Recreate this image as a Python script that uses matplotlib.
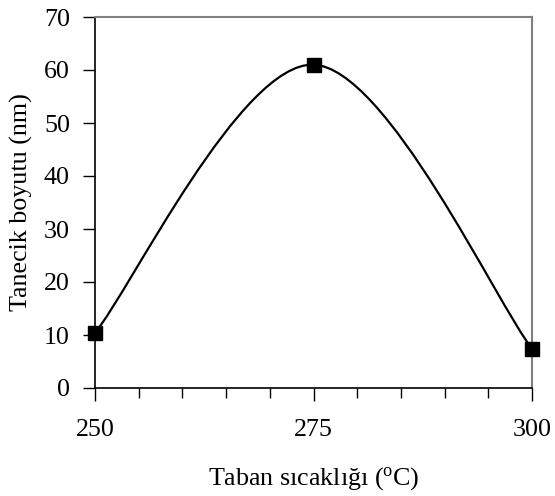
import numpy as np
import matplotlib
matplotlib.use("Agg")
import matplotlib.pyplot as plt
from matplotlib.path import Path
from matplotlib.patches import PathPatch
from matplotlib.ticker import MultipleLocator

temps = [250, 275, 300]
sizes = [10.4, 61.0, 7.4]
yticks = [0, 10, 20, 30, 40, 50, 60, 70]
xticks = [250, 275, 300]

FS = 18.7
plt.rcParams['font.family'] = ['Liberation Serif', 'DejaVu Serif']
fig = plt.figure(figsize=(5.55, 4.96), dpi=100)
ax = fig.add_axes([95/555, 1-388/496, (532-95)/555, (388-17)/496])

# Excel-style smoothed line (Bezier with 1/6 tension)
pts = np.column_stack([temps, sizes]).astype(float)
n = len(pts)
verts = [tuple(pts[0])]
codes = [Path.MOVETO]
for i in range(n-1):
    p0 = pts[i-1] if i > 0 else pts[i]
    p1 = pts[i]
    p2 = pts[i+1]
    p3 = pts[i+2] if i+2 < n else pts[i+1]
    c1 = p1 + (p2 - p0)/6
    c2 = p2 - (p3 - p1)/6
    verts += [tuple(c1), tuple(c2), tuple(p2)]
    codes += [Path.CURVE4]*3
ax.add_patch(PathPatch(Path(verts, codes), facecolor='none', edgecolor='black', lw=1.6, zorder=3, clip_on=False))
ax.plot(temps, sizes, linestyle='none', marker='s', ms=9.5, color='black', zorder=4, clip_on=False)

ax.set_xlim(250, 300)
ax.set_ylim(0, 70)
ax.set_xticks(xticks)
ax.xaxis.set_minor_locator(MultipleLocator(5))
ax.set_yticks(yticks)
ax.tick_params(axis='both', which='major', direction='out', length=9, width=1, color='black', labelsize=FS)
ax.tick_params(axis='x', which='minor', direction='out', length=7, width=1, color='black')
ax.tick_params(axis='x', which='major', pad=13)
ax.tick_params(axis='y', which='major', pad=9)

for s in ['left', 'bottom']:
    ax.spines[s].set_color('black')
    ax.spines[s].set_linewidth(1.2)
for s in ['top', 'right']:
    ax.spines[s].set_color('#808080')
    ax.spines[s].set_linewidth(1.5)

ax.set_xlabel('Taban sıcaklığı ($\\mathregular{^{o}}$C)', fontsize=FS, labelpad=18)
ax.set_ylabel('Tanecik boyutu (nm)', fontsize=FS, labelpad=8)

fig.savefig('out.png', dpi=100)
